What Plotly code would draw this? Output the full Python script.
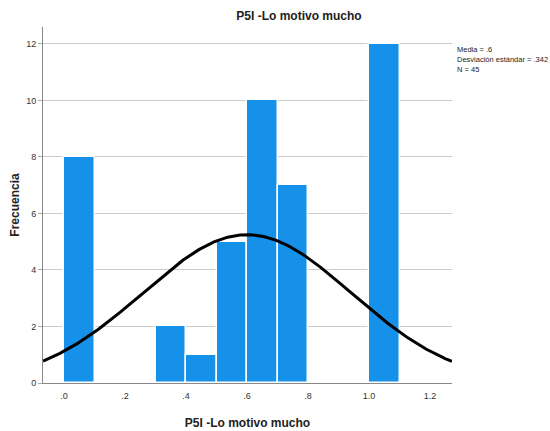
import numpy as np
import plotly.graph_objects as go

# Data
bin_starts = [0.0, 0.3, 0.4, 0.5, 0.6, 0.7, 1.0]
counts = [8, 2, 1, 5, 10, 7, 12]
bin_width = 0.1
mean_val = 0.6
sd_val = 0.342
n_val = 45
x_tickvals = [0.0, 0.2, 0.4, 0.6, 0.8, 1.0, 1.2]
x_ticktext = [".0", ".2", ".4", ".6", ".8", "1.0", "1.2"]
y_tickvals = [0, 2, 4, 6, 8, 10, 12]

x_range = [-0.069, 1.272]
bar_centers = [b + bin_width / 2 for b in bin_starts]

xs = np.linspace(x_range[0], x_range[1], 300)
ys = n_val * bin_width / (sd_val * np.sqrt(2 * np.pi)) * np.exp(-0.5 * ((xs - mean_val) / sd_val) ** 2)

fig = go.Figure()
fig.add_trace(go.Bar(
    x=bar_centers, y=counts, width=bin_width,
    marker=dict(color="#1591EA", line=dict(color="white", width=1.5)),
    showlegend=False, hoverinfo="skip",
))
fig.add_trace(go.Scatter(
    x=xs, y=ys, mode="lines", line=dict(color="black", width=3),
    showlegend=False, hoverinfo="skip",
))

font_family = "Liberation Sans, Arial, sans-serif"
fig.update_layout(
    width=550, height=431,
    margin=dict(l=43, r=98, t=27, b=48),
    paper_bgcolor="white", plot_bgcolor="white",
    font=dict(family=font_family, color="#222"),
    title=dict(text="<b>P5I -Lo motivo mucho</b>", x=299 / 550, xanchor="center",
               y=1 - 16 / 431, yanchor="middle", font=dict(size=12, color="#222")),
    bargap=0,
    xaxis=dict(range=x_range, tickvals=x_tickvals, ticktext=x_ticktext, automargin=False,
               showgrid=False, zeroline=False, showline=True, linecolor="#888", linewidth=1,
               ticks="outside", ticklen=4, tickcolor="rgba(0,0,0,0)",
               tickfont=dict(size=9, color="#333"),
               title=dict(text="<b>P5I -Lo motivo mucho</b>", font=dict(size=12, color="#222"), standoff=18)),
    yaxis=dict(range=[0, 12.6], tickvals=y_tickvals, automargin=False,
               showgrid=True, gridcolor="#cccccc", gridwidth=1, zeroline=False,
               showline=True, linecolor="#888", linewidth=1,
               ticks="outside", ticklen=4, tickcolor="#aaa",
               tickfont=dict(size=9, color="#333"),
               title=dict(text="<b>Frecuencia</b>", font=dict(size=12, color="#222"), standoff=3)),
    annotations=[dict(
        text=f"Media = .6<br>Desviación estándar = .342<br>N = {n_val}",
        xref="paper", yref="paper", x=1.007, y=1 - (43 - 27) / 356, xanchor="left", yanchor="top",
        align="left", showarrow=False, font=dict(size=7.5, color="#222"),
    )],
)

fig.write_html(
    "out.html",
    config={"displayModeBar": False},
    post_script="document.body.style.margin='0';document.body.style.overflow='hidden';",
)
